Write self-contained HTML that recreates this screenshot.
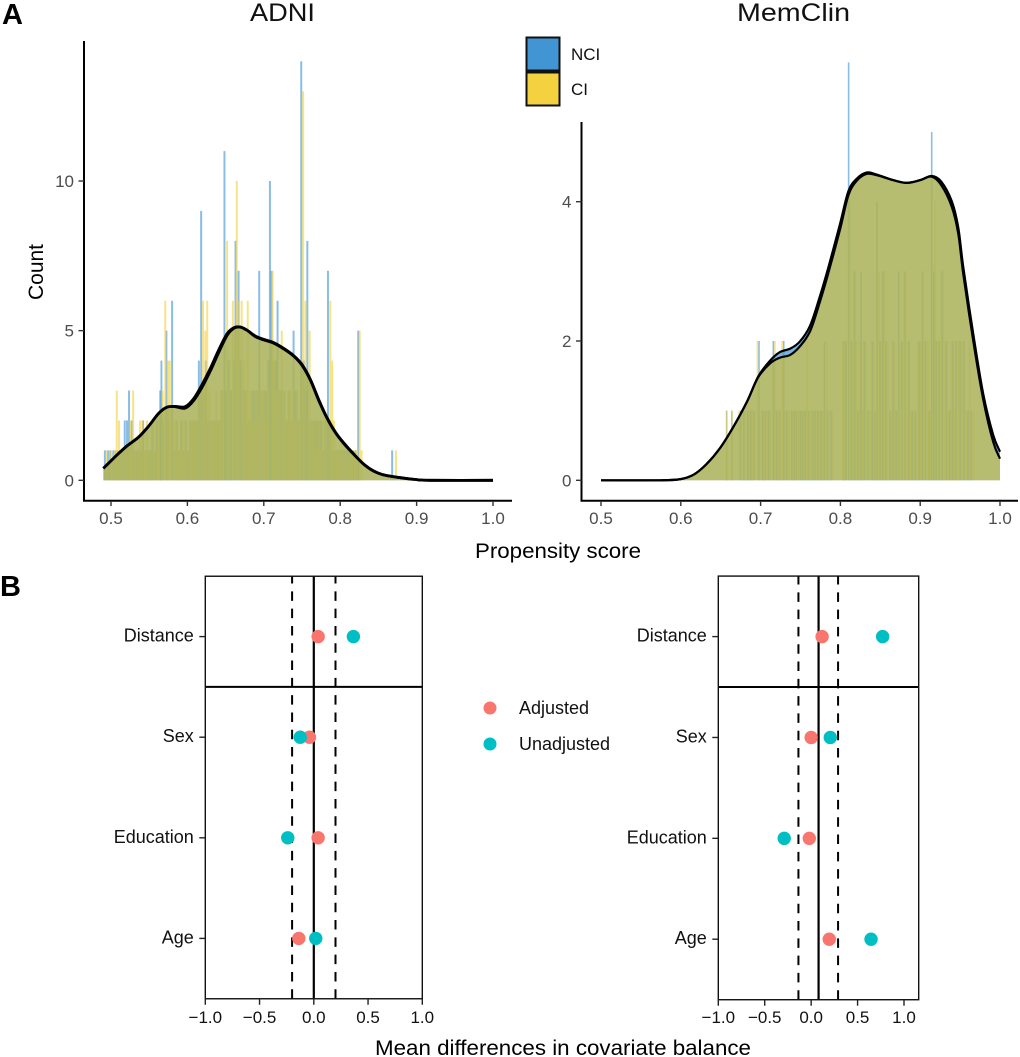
<!DOCTYPE html>
<html lang="en">
<head>
<meta charset="utf-8">
<title>Propensity score distributions and covariate balance</title>
<style>
html,body{margin:0;padding:0;background:#fff;}
svg{display:block;font-family:"Liberation Sans",sans-serif;}
</style>
</head>
<body>
<svg id="figure" xmlns="http://www.w3.org/2000/svg" width="1020" height="1057" viewBox="0 0 1020 1057">
  <rect width="1020" height="1057" fill="#fff"/>
  <text x="2" y="24" font-size="29" font-weight="bold" fill="#000">A</text>
  <text x="0" y="596" font-size="29" font-weight="bold" fill="#000">B</text>
  <text x="250" y="21" font-size="25" textLength="65" lengthAdjust="spacingAndGlyphs" fill="#111">ADNI</text>
  <text x="737" y="21" font-size="25" textLength="113" lengthAdjust="spacingAndGlyphs" fill="#111">MemClin</text>
  <text transform="translate(43,272) rotate(-90)" text-anchor="middle" font-size="21" fill="#000">Count</text>
  <text x="475" y="558" font-size="21" textLength="166" lengthAdjust="spacingAndGlyphs" fill="#000">Propensity score</text>
  <text x="375" y="1055" font-size="21" textLength="376" lengthAdjust="spacingAndGlyphs" fill="#000">Mean differences in covariate balance</text>

  <g>
    <rect x="526.5" y="37.5" width="33" height="33" fill="#4295d3" stroke="#111" stroke-width="2"/>
    <rect x="526.5" y="72.5" width="33" height="33" fill="#f4d13f" stroke="#111" stroke-width="2"/>
    <text x="571" y="60" font-size="17" fill="#111">NCI</text>
    <text x="571" y="95" font-size="17" fill="#111">CI</text>
  </g>
  <g>
    <circle cx="490" cy="708" r="6.5" fill="#f8766d"/>
    <circle cx="490" cy="744" r="6.5" fill="#00bfc4"/>
    <text x="519" y="714" font-size="18" fill="#111">Adjusted</text>
    <text x="519" y="750" font-size="18" fill="#111">Unadjusted</text>
  </g>
  <g id="layer-top"></g>
  <g id="layer-bottom"></g>
</svg>
<script>
// ---------- Top row: ADNI ----------
const adniXTicks = [0.5, 0.6, 0.7, 0.8, 0.9, 1.0];
const adniYTicks = [0, 5, 10];
const adniNciBars = [
[.492,1],[.496,1],[.499,1],[.503,1],[.506,1],[.509,1],[.512,1],[.515,1],[.518,2],[.521,2],[.5236,3],[.527,2],[.53,1],[.533,1],[.536,1],[.539,1],[.542,2],[.545,1],[.548,1],[.551,1],[.554,2],[.557,1],[.56,2],[.5645,3],[.566,4],[.568,2],[.5725,5],[.575,2],[.58,6],[.583,1],[.586,2],[.589,1],[.592,2],[.595,1],[.598,2],[.601,1],[.604,2],[.607,2],[.61,2],[.613,2],[.615,4],[.618,9],[.621,3],[.624,4],[.627,2],[.63,2],[.633,2],[.636,2],[.639,2],[.642,2],[.645,3],[.6485,11],[.651,3],[.654,4],[.657,3],[.66,4],[.663,8],[.667,7],[.67,4],[.673,3],[.676,3],[.679,2],[.682,2],[.685,3],[.688,3],[.691,3],[.694,7],[.697,3],[.7,3],[.703,3],[.706,4],[.708,10],[.71,7],[.713,4],[.716,4],[.718,6],[.721,3],[.724,3],[.727,3],[.73,2],[.733,3],[.736,2],[.739,5],[.742,3],[.745,2],[.749,14],[.752,4],[.755,3],[.757,8],[.76,2],[.763,2],[.766,2],[.769,2],[.772,2],[.775,2],[.778,1],[.781,2],[.784,7],[.787,2],[.79,1],[.793,1],[.796,1],[.799,1],[.802,1],[.805,1],[.808,1],[.811,1],[.814,1],[.817,1],[.82,1],[.8236,5],[.868,1]
];
const adniCiBars = [
[.4945,1],[.5,1],[.5045,1],[.5075,3],[.5105,2],[.5135,1],[.5165,1],[.5195,1],[.5225,1],[.5255,2],[.529,3],[.532,1],[.535,1],[.538,2],[.541,2],[.544,1],[.547,2],[.55,1],[.553,1],[.556,2],[.559,1],[.562,2],[.5675,3],[.571,6],[.575,4],[.577,4],[.579,2],[.582,2],[.585,2],[.588,1],[.591,1],[.594,2],[.597,2],[.6,1],[.603,2],[.606,2],[.609,2],[.612,2],[.6155,3],[.6205,6],[.6235,5],[.626,6],[.629,3],[.632,2],[.635,2],[.638,3],[.641,2],[.644,3],[.647,3],[.652,8],[.655,3],[.6595,6],[.6646,10],[.666,6],[.671,6],[.674,4],[.677,3],[.679,6],[.682,3],[.685,2],[.688,2],[.691,3],[.694,2],[.697,3],[.7,3],[.703,2],[.706,3],[.7115,7],[.714,4],[.717,3],[.72,3],[.7235,5],[.726,3],[.729,2],[.732,3],[.735,3],[.738,2],[.741,2],[.744,3],[.747,2],[.7515,13],[.7545,6],[.76,5],[.763,2],[.766,2],[.769,1],[.772,2],[.775,1],[.778,2],[.781,2],[.787,6],[.7895,4],[.792,2],[.795,1],[.798,1],[.801,1],[.804,1],[.807,1],[.81,1],[.813,1],[.816,1],[.819,1],[.822,1],[.8255,5],[.828,1],[.873,1]
];
const adniDensityScores = [.49,.508,.521,.536,.549,.5625,.573,.584,.597,.608,.619,.63,.641,.652,.661,.669,.678,.689,.7,.713,.726,.739,.75,.761,.772,.783,.794,.805,.818,.831,.844,.857,.875,.897,.918,1];
const adniNciDensity = [.40,.85,1.15,1.44,1.8,2.24,2.44,2.47,2.46,2.72,3.19,3.74,4.36,4.90,5.1,5.12,5.02,4.82,4.71,4.6,4.41,4.17,3.87,3.37,2.69,2.08,1.6,1.24,.87,.54,.31,.18,.1,.03,0,0];
const adniCiDensity = [.40,.85,1.15,1.44,1.8,2.24,2.44,2.46,2.41,2.66,3.1,3.65,4.27,4.84,5.08,5.12,5.01,4.8,4.69,4.58,4.39,4.15,3.84,3.34,2.66,2.06,1.58,1.22,.86,.53,.3,.18,.1,.03,0,0];

// ---------- Top row: MemClin ----------
const memXTicks = [0.5, 0.6, 0.7, 0.8, 0.9, 1.0];
const memYTicks = [0, 2, 4];
const memNciBars = [
[.6575,1],[.664,1],[.675,1],[.679,1],[.684,1],[.688,1],[.692,1],[.698,2],[.703,1],[.706,1],[.71,1],[.716,2],[.72,1],[.724,1],[.729,2],[.733,1],[.739,1],[.742,1],[.745,1],[.75,1],[.753,1],[.756,1],[.76,1],[.765,1],[.768,1],[.772,1],[.776,1],[.78,2],[.784,1],[.788,1],[.804,2],[.807,2],[.8103,6],[.814,2],[.818,3],[.822,1],[.826,3],[.83,2],[.835,1],[.84,2],[.843,1],[.846,4],[.85,2],[.853,3],[.857,2],[.862,1],[.866,2],[.87,1],[.873,3],[.877,2],[.881,3],[.886,2],[.89,1],[.894,1],[.899,2],[.903,3],[.907,2],[.911,1],[.9144,5],[.917,3],[.92,2],[.924,2],[.928,3],[.933,2],[.937,1],[.941,2],[.945,2],[.95,2],[.955,2],[.96,1],[.964,1]
];
const memCiBars = [
[.6575,1],[.664,1],[.673,1],[.681,1],[.686,1],[.69,1],[.696,2],[.701,1],[.708,1],[.712,1],[.718,2],[.722,1],[.727,2],[.731,1],[.736,1],[.74,1],[.744,1],[.748,1],[.752,1],[.758,2],[.762,1],[.767,1],[.77,1],[.774,1],[.778,1],[.783,2],[.79,1],[.803,2],[.806,2],[.812,4],[.816,3],[.82,2],[.824,2],[.828,1],[.832,2],[.838,1],[.842,2],[.848,3],[.851,2],[.855,3],[.859,2],[.864,1],[.868,2],[.872,1],[.876,2],[.88,3],[.884,2],[.888,1],[.892,1],[.897,2],[.901,2],[.905,2],[.91,2],[.913,1],[.9185,4],[.922,2],[.926,3],[.931,2],[.935,1],[.939,2],[.943,1],[.948,2],[.952,2],[.958,1],[.962,2],[.967,1]
];
const memDensityScores = [.5,.574,.599,.616,.632,.649,.666,.683,.697,.712,.724,.737,.749,.762,.774,.785,.7995,.81,.8204,.833,.8455,.866,.883,.9,.9144,.9263,.9395,.9477,.954,.9665,.979,.9915,1];
const memNciDensity = [0,0,.015,.08,.23,.46,.77,1.13,1.49,1.72,1.84,1.89,1.99,2.22,2.63,3.06,3.68,4.15,4.33,4.42,4.39,4.31,4.27,4.31,4.37,4.29,4.01,3.63,3.06,2.1,1.24,.65,.41];
const memCiDensity = [0,0,.015,.08,.23,.46,.77,1.13,1.48,1.68,1.76,1.8,1.92,2.14,2.55,2.98,3.6,4.09,4.3,4.4,4.38,4.31,4.27,4.31,4.36,4.24,3.93,3.54,2.96,2,1.16,.55,.31];

// ---------- Bottom row: covariate balance ----------
const covariates = ['Age', 'Education', 'Sex', 'Distance'];
const balanceTicks = [-1, -0.5, 0, 0.5, 1];
const adniAdjusted = [-0.138, 0.04, -0.04, 0.04];
const adniUnadjusted = [0.018, -0.24, -0.125, 0.365];
const adniCentreLine = [0];
const adniThresholds = [-0.2, 0.2];
const memAdjusted = [0.195, -0.02, 0, 0.118];
const memUnadjusted = [0.645, -0.29, 0.206, 0.77];
const memCentreLine = [0.08];
const memThresholds = [-0.137, 0.29];

const NS = 'http://www.w3.org/2000/svg';
const topLayer = document.getElementById('layer-top');
const bottomLayer = document.getElementById('layer-bottom');

function make(parent, tag, attrs) {
  const el = document.createElementNS(NS, tag);
  for (const k in attrs) el.setAttribute(k, attrs[k]);
  parent.appendChild(el);
  return el;
}
function linear(d0, d1, r0, r1) {
  return v => r0 + (v - d0) * (r1 - r0) / (d1 - d0);
}
function smoothLine(points) {
  let d = 'M' + points[0][0].toFixed(2) + ' ' + points[0][1].toFixed(2);
  for (let i = 0; i < points.length - 1; i++) {
    const p0 = points[Math.max(i - 1, 0)], p1 = points[i], p2 = points[i + 1], p3 = points[Math.min(i + 2, points.length - 1)];
    const c1x = p1[0] + (p2[0] - p0[0]) / 6, c1y = p1[1] + (p2[1] - p0[1]) / 6;
    const c2x = p2[0] - (p3[0] - p1[0]) / 6, c2y = p2[1] - (p3[1] - p1[1]) / 6;
    d += 'C' + c1x.toFixed(2) + ' ' + c1y.toFixed(2) + ' ' + c2x.toFixed(2) + ' ' + c2y.toFixed(2) + ' ' + p2[0].toFixed(2) + ' ' + p2[1].toFixed(2);
  }
  return d;
}
function drawBars(parent, bars, x, y, binWidth, color, name) {
  const px = Math.abs(x(binWidth) - x(0));
  bars.forEach(b => {
    const rect = make(parent, 'rect', {
      x: (x(b[0]) - px / 2).toFixed(2),
      y: y(b[1]).toFixed(2),
      width: px.toFixed(2),
      height: (y(0) - y(b[1])).toFixed(2),
      fill: color,
      'fill-opacity': 0.62
    });
    
    
  });
}
function drawDensity(parent, scores, values, x, y, fill, opacity, name) {
  const pts = scores.map((s, i) => [x(s), y(values[i])]);
  const line = smoothLine(pts);
  const area = make(parent, 'path', {
    d: line + 'L' + x(scores[scores.length - 1]).toFixed(2) + ' ' + y(0).toFixed(2) + 'L' + x(scores[0]).toFixed(2) + ' ' + y(0).toFixed(2) + 'Z',
    fill: fill,
    'fill-opacity': opacity
  });
  
  
  return line;
}
function strokeDensity(parent, line, width, name) {
  const curve = make(parent, 'path', { d: line, fill: 'none', stroke: '#000', 'stroke-width': width, 'stroke-linejoin': 'round' });
  
  
}
function drawHistogramPanel(cfg) {
  const g = make(topLayer, 'g', {});
  
  
  drawBars(g, cfg.nciBars, cfg.x, cfg.y, cfg.binWidth, '#4295d3', cfg.name + '-nci-bar');
  drawBars(g, cfg.ciBars, cfg.x, cfg.y, cfg.binWidth, '#f4d13f', cfg.name + '-ci-bar');
  const l1 = drawDensity(g, cfg.scores, cfg.nciDensity, cfg.x, cfg.y, '#4295d3', 0.7, cfg.name + '-nci-density');
  const l2 = drawDensity(g, cfg.scores, cfg.ciDensity, cfg.x, cfg.y, '#ddc225', 0.6, cfg.name + '-ci-density');
  strokeDensity(g, l1, cfg.lineWidth, cfg.name + '-nci-density');
  strokeDensity(g, l2, cfg.lineWidth, cfg.name + '-ci-density');

  const yAxis = make(g, 'line', { x1: cfg.axisX, x2: cfg.axisX, y1: cfg.axisTop, y2: 501.5, stroke: '#000', 'stroke-width': 2 });
  
  
  const xAxis = make(g, 'line', { x1: cfg.axisX - 1, x2: cfg.axisRight, y1: 500.7, y2: 500.7, stroke: '#000', 'stroke-width': 2 });
  
  

  cfg.xTicks.forEach(t => {
    const px = cfg.x(t);
    const tick = make(g, 'line', { x1: px, x2: px, y1: 501, y2: 506, stroke: '#333', 'stroke-width': 1.4 });
    
    
    const label = make(g, 'text', { x: px, y: 524, 'text-anchor': 'middle', 'font-size': 17, fill: '#4d4d4d' });
    label.textContent = t.toFixed(1);
    
    
  });
  cfg.yTicks.forEach(t => {
    const py = cfg.y(t);
    const tick = make(g, 'line', { x1: cfg.axisX - 5.5, x2: cfg.axisX, y1: py, y2: py, stroke: '#333', 'stroke-width': 1.4 });
    
    
    const label = make(g, 'text', { x: cfg.axisX - 10, y: py + 6, 'text-anchor': 'end', 'font-size': 17, fill: '#4d4d4d' });
    label.textContent = String(t);
    
    
  });
}
drawHistogramPanel({
  name: 'adni', x: linear(0.5, 1, 111, 493), y: linear(0, 10, 480.3, 181),
  nciBars: adniNciBars, ciBars: adniCiBars, binWidth: 0.0026,
  scores: adniDensityScores, nciDensity: adniNciDensity, ciDensity: adniCiDensity,
  xTicks: adniXTicks, yTicks: adniYTicks, axisX: 84, axisTop: 41, axisRight: 512, lineWidth: 2.8
});
drawHistogramPanel({
  name: 'memclin', x: linear(0.5, 1, 601, 1000), y: linear(0, 4, 480.3, 201.7),
  nciBars: memNciBars, ciBars: memCiBars, binWidth: 0.002,
  scores: memDensityScores, nciDensity: memNciDensity, ciDensity: memCiDensity,
  xTicks: memXTicks, yTicks: memYTicks, axisX: 581.5, axisTop: 122, axisRight: 1018, lineWidth: 2.2
});

function drawBalancePanel(cfg) {
  const g = make(bottomLayer, 'g', {});
  
  
  const x = cfg.x;
  const y = linear(0, 3, cfg.ageY, 636.6);
  const top = y(3.6), bottom = y(-0.6);

  cfg.thresholds.forEach(v => {
    const dash = make(g, 'line', { x1: x(v), x2: x(v), y1: bottom, y2: top, stroke: '#000', 'stroke-width': 2, 'stroke-dasharray': '9.5 7.8' });
    
    
  });
  cfg.centre.forEach(v => {
    const solid = make(g, 'line', { x1: x(v), x2: x(v), y1: top, y2: bottom, stroke: '#000', 'stroke-width': 2.2 });
    
    
  });
  const divider = make(g, 'line', { x1: cfg.left, x2: cfg.right, y1: y(2.5), y2: y(2.5), stroke: '#000', 'stroke-width': 2 });
  
  
  const box = make(g, 'rect', { x: cfg.left, y: top, width: cfg.right - cfg.left, height: bottom - top, fill: 'none', stroke: '#111', 'stroke-width': 1.4 });
  
  

  covariates.forEach((c, i) => {
    const py = y(i);
    const tick = make(g, 'line', { x1: cfg.left - 6, x2: cfg.left, y1: py, y2: py, stroke: '#222', 'stroke-width': 1.4 });
    
    
    const label = make(g, 'text', { x: cfg.left - 11.5, y: py + 5, 'text-anchor': 'end', 'font-size': 18, fill: '#111' });
    label.textContent = c;
    
    
    const adj = make(g, 'circle', { cx: x(cfg.adjusted[i]), cy: py, r: 6.7, fill: '#f8766d' });
    
    
    const unadj = make(g, 'circle', { cx: x(cfg.unadjusted[i]), cy: py, r: 6.7, fill: '#00bfc4' });
    
    
  });
  balanceTicks.forEach(t => {
    const px = x(t);
    const tick = make(g, 'line', { x1: px, x2: px, y1: bottom, y2: bottom + 6, stroke: '#222', 'stroke-width': 1.4 });
    
    
    const label = make(g, 'text', { x: px, y: 1023, 'text-anchor': 'middle', 'font-size': 17, fill: '#111' });
    label.textContent = (t < 0 ? '\u2212' : '') + Math.abs(t).toFixed(1);
    
    
  });
}
drawBalancePanel({
  name: 'adni', x: linear(-1, 1, 205.3, 422.3), left: 205.3, right: 422.3, ageY: 938.4,
  adjusted: adniAdjusted, unadjusted: adniUnadjusted, centre: adniCentreLine, thresholds: adniThresholds
});
drawBalancePanel({
  name: 'memclin', x: linear(-1, 1, 718.3, 904), left: 718.3, right: 918.7, ageY: 939.2,
  adjusted: memAdjusted, unadjusted: memUnadjusted, centre: memCentreLine, thresholds: memThresholds
});
</script>
</body>
</html>
